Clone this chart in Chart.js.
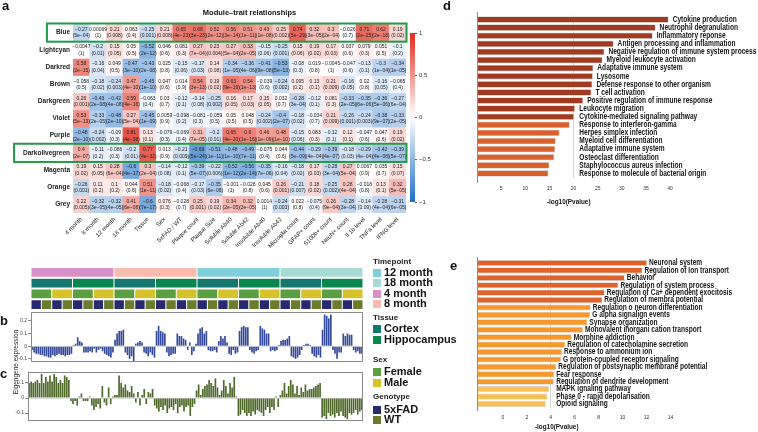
<!DOCTYPE html>
<html><head><meta charset="utf-8">
<script src="https://cdn.jsdelivr.net/npm/chart.js"></script>
<style>
html,body{margin:0;padding:0;background:#fff;}
#wrap{position:relative;width:758px;height:432px;overflow:hidden;background:#fff;font-family:"Liberation Sans",Arial,sans-serif;color:#111;}
#wrap canvas{position:absolute;}
.t{position:absolute;white-space:nowrap;line-height:1;}
</style></head><body><div id="wrap"></div>
<script>
// ---------------- DATA ----------------
const traits = ['4 month','8 month','12 month','18 month','Tissue','Sex','5xFAD / WT','Plaque count','Plaque Size','Soluble Ab40','Soluble Ab42','Insoluble Ab40','Insoluble Ab42','Microglia count','GFAP+ count','S100b+ count','NeuN+ count','Il 1b level','TNFa level','IFNG level'];
const modules = ['Blue','Lightcyan','Darkred','Brown','Darkgreen','Violet','Purple','Darkolivegreen','Magenta','Orange','Grey'];
const highlighted = ['Blue','Darkolivegreen'];

const corBlue = [-0.27,0.00069,0.21,0.063,-0.25,0.21,0.65,0.68,0.52,0.56,0.51,0.43,0.25,0.74,0.32,0.3,-0.026,0.71,0.62,0.19];
const pBlue = [5e-4,1,0.008,0.4,0.001,0.008,4e-23,3e-23,2e-12,3e-14,1e-11,1e-8,0.002,5e-29,3e-5,2e-4,0.7,2e-25,2e-18,0.02];
const corLightcyan = [-0.0047,-0.2,0.15,0.05,-0.52,0.046,0.081,0.27,0.23,0.27,0.33,-0.15,-0.25,0.15,0.19,0.17,0.037,0.079,0.051,-0.1];
const pLightcyan = [1,0.01,0.05,0.5,2e-12,0.6,0.3,7e-4,0.004,5e-4,2e-5,0.06,0.001,0.06,0.02,0.03,0.6,0.3,0.5,0.2];
const corDarkred = [0.58,-0.16,0.049,-0.47,-0.43,0.025,-0.15,-0.17,0.14,-0.34,-0.36,-0.41,-0.53,-0.08,0.019,-0.0045,-0.047,-0.13,-0.3,-0.34];
const pDarkred = [2e-15,0.04,0.5,3e-10,2e-8,0.8,0.06,0.03,0.08,1e-5,4e-6,9e-8,5e-13,0.3,0.8,1,0.6,0.1,1e-4,1e-5];
const corBrown = [-0.058,-0.18,-0.24,0.47,-0.45,0.047,0.014,0.54,0.19,0.63,0.54,-0.039,-0.24,0.095,0.13,0.21,-0.16,0.02,-0.16,-0.065];
const pBrown = [0.5,0.02,0.003,4e-10,1e-10,0.6,0.9,3e-13,0.02,9e-19,1e-13,0.6,0.002,0.2,0.1,0.009,0.05,0.8,0.05,0.4];
const corDarkgreen = [0.26,-0.43,-0.42,0.59,-0.063,0.03,-0.12,-0.14,-0.25,0.16,0.17,0.15,0.032,-0.28,-0.12,0.081,-0.33,-0.35,-0.36,-0.27];
const pDarkgreen = [0.001,2e-8,4e-8,4e-16,0.4,0.7,0.1,0.08,0.002,0.05,0.03,0.05,0.7,3e-4,0.1,0.3,2e-5,6e-6,5e-6,6e-4];
const corViolet = [0.53,-0.33,-0.48,0.27,-0.45,0.0059,-0.098,-0.081,-0.059,0.05,0.048,-0.24,-0.4,-0.18,-0.034,0.21,-0.26,-0.24,-0.38,-0.33];
const pViolet = [5e-13,2e-5,2e-10,5e-4,1e-9,0.9,0.2,0.3,0.5,0.5,0.5,0.002,2e-7,0.02,0.7,0.009,0.001,0.003,9e-7,2e-5];
const corPurple = [-0.48,-0.24,-0.09,0.81,0.13,-0.079,-0.069,0.31,-0.2,0.65,0.6,0.46,0.48,-0.15,0.083,-0.12,0.12,-0.047,0.047,0.19];
const pPurple = [2e-10,0.002,0.3,4e-38,0.1,0.3,0.4,7e-5,0.01,4e-20,1e-16,1e-9,1e-10,0.06,0.3,0.1,0.1,0.6,0.6,0.02];
const corDarkolivegreen = [0.4,-0.11,-0.086,-0.2,0.77,0.013,-0.21,-0.69,-0.51,-0.48,-0.49,-0.075,0.044,-0.44,-0.29,-0.39,-0.18,-0.29,-0.42,-0.39];
const pDarkolivegreen = [2e-7,0.2,0.3,0.01,4e-32,0.9,0.009,5e-24,1e-11,1e-10,7e-11,0.4,0.6,5e-9,4e-4,4e-7,0.03,4e-4,4e-8,5e-7];
const corMagenta = [0.19,0.15,0.28,-0.6,0.3,-0.14,-0.12,-0.39,-0.22,-0.52,-0.56,-0.35,-0.16,-0.18,0.17,-0.28,0.27,0.0067,0.035,0.15];
const pMagenta = [0.02,0.05,6e-4,4e-17,2e-4,0.08,0.1,5e-7,0.006,1e-12,2e-14,7e-6,0.04,0.02,0.03,3e-4,5e-4,0.9,0.7,0.07];
const corOrange = [-0.26,0.11,0.1,0.044,0.51,-0.18,-0.068,-0.17,-0.35,-0.001,-0.028,0.045,0.26,-0.21,0.18,-0.25,0.28,-0.018,0.13,0.32];
const pOrange = [0.001,0.2,0.2,0.6,1e-11,0.02,0.4,0.03,6e-6,1,0.8,0.6,0.001,0.007,0.02,0.002,4e-4,0.8,0.1,5e-5];
const corGrey = [0.22,-0.32,-0.32,0.41,-0.6,0.076,-0.028,0.25,0.19,0.34,0.32,0.0014,-0.24,0.022,-0.075,0.26,-0.28,-0.14,-0.28,-0.31];
const pGrey = [0.005,3e-5,4e-5,6e-8,7e-17,0.3,0.7,0.001,0.02,2e-5,3e-5,1,0.003,0.8,0.4,9e-4,3e-4,0.09,4e-4,6e-5];

const timepoints = ['4 month','8 month','12 month','18 month'];
const tissues = ['Cortex','Hippocampus'];
const sexes = ['Female','Male'];
const genotypes = ['5xFAD','WT'];
const replicates = 5;

// Blue module eigengene (panel b), 160 samples
const eigenBlue = [
-0.03,-0.05,-0.06,-0.06,-0.07, -0.07,-0.08,-0.08,-0.09,-0.09, -0.07,-0.08,-0.07,-0.06,-0.07, -0.07,-0.08,-0.07,-0.07,-0.06,
0.01,0.02,0.07,0.04,0.03, -0.05,-0.05,-0.05,-0.04,-0.05, -0.02,-0.05,-0.03,-0.02,-0.04, -0.06,-0.07,-0.08,-0.09,-0.05,
0.05,0.1,0.12,0.12,0.13, -0.05,-0.07,-0.1,-0.08,-0.12, 0.02,0.03,0.04,0.03,-0.05, -0.06,-0.08,-0.05,-0.07,-0.09,
0.12,0.16,0.12,0.11,0.1, -0.05,-0.08,-0.07,-0.06,-0.06, 0.1,0.08,0.08,0.06,0.05, -0.03,0.03,-0.07,-0.04,0.02,
0.1,0.14,0.15,0.1,0.12, -0.03,-0.04,-0.04,-0.03,-0.05, 0.04,0.08,0.06,0.08,0.03, -0.06,-0.07,-0.03,-0.06,-0.05,
0.12,0.15,0.16,0.15,0.15, -0.03,-0.05,-0.06,-0.04,-0.03, 0.16,0.14,0.13,0.1,0.1, -0.04,-0.03,-0.04,-0.03,0.01,
0.04,0.05,0.05,0.06,0.08, -0.08,-0.09,-0.1,-0.09,-0.07, -0.03,0.01,0.02,0.02,0.01, -0.06,-0.08,-0.09,-0.07,-0.09,
0.13,0.25,0.24,0.22,0.25, -0.03,-0.06,-0.1,-0.05,-0.05, 0.1,0.08,0.1,0.09,0.09, -0.03,-0.05,-0.04,-0.06,-0.06];

// Darkolivegreen module eigengene (panel c), 160 samples
const eigenDarkolivegreen = [
0.1,0.11,0.1,0.11,0.12, 0.1,0.16,0.1,0.14,0.11, 0.15,0.11,0.16,0.14,0.1, 0.12,0.1,0.15,0.14,0.12,
-0.02,-0.04,-0.02,-0.05,0.01, 0.03,-0.02,-0.02,-0.02,0.01, -0.05,-0.08,-0.06,-0.04,-0.07, 0.08,-0.03,-0.05,0.07,-0.04,
0.01,0.02,0.02,0.15,0.1, 0.07,0.09,0.05,0.04,0.08, 0.03,-0.03,0.04,-0.05,0.02, 0.06,-0.04,0.04,0.03,0.06,
-0.05,-0.07,-0.09,-0.06,-0.08, -0.05,-0.1,-0.07,-0.06,-0.08, -0.04,-0.1,-0.06,-0.05,-0.09, -0.06,-0.05,-0.12,-0.06,-0.04,
0.05,0.09,0.02,0.06,0.08, 0.09,0.12,0.1,0.08,0.13, 0.07,0.02,0.05,0.12,0.08, 0.03,0.1,0.07,0.14,0.01,
-0.12,-0.11,-0.08,-0.1,-0.12, -0.1,-0.12,-0.09,-0.11,-0.08, -0.09,-0.1,-0.12,-0.08,-0.06, -0.1,-0.06,-0.08,0.01,-0.06,
0.02,0.05,0.1,0.03,0.08, 0.12,0.09,0.03,0.08,0.02, 0.07,0.04,0.09,0.05,0.06, 0.06,0.07,0.08,0.09,0.1,
-0.13,-0.12,-0.14,-0.1,-0.12, -0.11,-0.13,-0.1,-0.12,-0.09, -0.12,-0.13,-0.14,-0.1,-0.11, -0.1,-0.08,-0.11,-0.09,-0.08];

const dTerms = ['Cytokine production','Neutrophil degranulation','Inflammatory reponse','Antigen processing and inflammation','Negative regulation of immune system process','Myeloid leukocyte activation','Adaptative immune system','Lysosome','Defense response to other organism','T cell activation','Positive regulation of immune response','Leukocyte migration','Cytokine-mediated signaling pathway','Response to interferon-gamma','Herpes simplex infection','Myeloid cell differentiation','Adaptative immune system','Osteoclast differentiation','Staphylococcus aureus infection','Response to molecule of bacterial origin'];
const dValues = [39.7,37.0,36.4,28.3,26.4,26.0,24.1,24.0,23.9,23.7,22.0,20.3,20.1,19.2,17.1,16.3,16.2,16.0,15.0,14.8];
const dTicks = [5,10,15,20,25,30,35,40];

const eTerms = ['Neuronal system','Regulation of Ion transport','Behavior','Regulation of system process','Regulation of Ca+ dependent exocitosis','Regulation of membra potential','Regulation o neuron differentiation','G alpha signalign events','Synapse organization','Monovalent inorgani cation transport','Morphine addiction','Regulation of catecholamine secretion','Response to ammonium ion','G protein-coupled receptor signaling','Regulation of postsynaptic membrane potential','Fear response','Regulation of dendrite development','MAPK ignaling pathway','Phase 0 - rapid depolarisation','Opioid signaling'];
const eValues = [12.05,11.66,10.18,9.65,8.51,8.31,7.34,7.31,7.06,6.7,5.75,5.22,4.94,4.86,4.47,4.3,4.25,3.86,3.72,3.58];
const eTicks = [0,2,4,6,8,10,12,14];

// ---------------- STYLE ----------------
const F = '"Liberation Sans", Arial, Helvetica, sans-serif';
Chart.defaults.font.family = F;
const corRows = [corBlue,corLightcyan,corDarkred,corBrown,corDarkgreen,corViolet,corPurple,corDarkolivegreen,corMagenta,corOrange,corGrey];
const pRows = [pBlue,pLightcyan,pDarkred,pBrown,pDarkgreen,pViolet,pPurple,pDarkolivegreen,pMagenta,pOrange,pGrey];
const annColors = {
  '4 month':'#D891C6','8 month':'#F8BBAE','12 month':'#7FCFDB','18 month':'#A7DCD4',
  'Cortex':'#14766E','Hippocampus':'#09874F','Female':'#5A9F42','Male':'#D6C22C',
  '5xFAD':'#28296F','WT':'#6B7C2C'};

function heatColor(v){
  const t = Math.min(1, Math.abs(v));
  const end = v >= 0 ? [226,44,28] : [30,110,200];
  const c = end.map(e => Math.round(255 + (e - 255) * t));
  return `rgb(${c[0]},${c[1]},${c[2]})`;
}
const minus = s => s.replace('-', '\u2212');
function fmtR(v){ return minus(String(v)); }
function fmtP(p){
  if (p >= 0.001) return String(p);
  const parts = p.toExponential(0).split('e');
  const ex = Math.abs(+parts[1]);
  return parts[0] + 'e\u2212' + (ex < 10 ? '0' + ex : ex);
}

const wrap = document.getElementById('wrap');
function mk(l,t,w,h){
  const c = document.createElement('canvas');
  c.width = w; c.height = h;
  c.style.left = l+'px'; c.style.top = t+'px'; c.style.width = w+'px'; c.style.height = h+'px';
  wrap.appendChild(c); return c;
}
function txt(s, l, t, css){
  const d = document.createElement('div'); d.className = 't'; d.textContent = s;
  d.style.left = l+'px'; d.style.top = t+'px'; d.style.cssText += css; wrap.appendChild(d); return d;
}
const base = {responsive:false, animation:false, events:[], plugins:{legend:{display:false}, tooltip:{enabled:false}}};

// ---------------- PANEL A: heatmap ----------------
const heatPlugin = {
  id:'heatText',
  afterDatasetsDraw(chart){
    const ctx = chart.ctx, a = chart.chartArea, ys = chart.scales.y;
    ctx.save();
    ctx.font = '5px ' + F; ctx.fillStyle = '#222'; ctx.textAlign = 'center'; ctx.textBaseline = 'middle';
    chart.data.datasets.forEach((ds, r) => {
      chart.getDatasetMeta(r).data.forEach((el, c) => {
        const cy = (el.y + el.base) / 2;
        ctx.fillText(fmtR(corRows[r][c]), el.x, cy - 3);
        ctx.fillText('(' + fmtP(pRows[r][c]) + ')', el.x, cy + 3.5);
      });
    });
    // highlight boxes
    ctx.strokeStyle = '#23994A'; ctx.lineWidth = 2;
    ctx.font = 'bold 6.5px ' + F;
    highlighted.forEach(name => {
      const r = modules.indexOf(name);
      const top = ys.getPixelForValue(r), bot = ys.getPixelForValue(r + 1);
      const left = a.left - 3 - ctx.measureText(name).width - 9;
      ctx.strokeRect(left, top - 0.5, a.right + 0.5 - left, bot - top + 1);
    });
    ctx.restore();
  }
};
new Chart(mk(0,0,440,262), {
  type:'bar',
  data:{labels:traits, datasets: modules.map((m, r) => ({
    label:m, data: traits.map(() => [r, r + 1]), backgroundColor: corRows[r].map(heatColor),
    borderWidth:0, categoryPercentage:1, barPercentage:1, grouped:false }))},
  options:Object.assign({}, base, {
    layout:{padding:{left:0, right:34, top:24, bottom:0}},
    scales:{
      x:{type:'category', grid:{display:false, drawTicks:false}, border:{display:false},
         ticks:{minRotation:45, maxRotation:45, autoSkip:false, font:{size:6}, color:'#222', padding:3},
         afterFit(s){ s.height = 49; }},
      y:{type:'linear', min:0, max:11, reverse:true, grid:{display:false, drawTicks:false}, border:{display:false},
         afterBuildTicks(s){ s.ticks = modules.map((m, i) => ({value: i + 0.5})); },
         ticks:{autoSkip:false, callback:(v, i) => modules[i], font:{size:6.5, weight:'bold'}, color:'#222', padding:3},
         afterFit(s){ s.width = 73; }}
    }
  }),
  plugins:[heatPlugin]
});

// colour scale
new Chart(mk(400,20,40,200), {
  type:'bar',
  data:{labels:[''], datasets:[{data:[[-1,1]], borderWidth:0, categoryPercentage:1, barPercentage:1,
    backgroundColor:(c) => { const a = c.chart.chartArea; if (!a) return null;
      const g = c.chart.ctx.createLinearGradient(0, a.bottom, 0, a.top);
      g.addColorStop(0, heatColor(-1)); g.addColorStop(0.5, heatColor(0)); g.addColorStop(1, heatColor(1)); return g; }}]},
  options:Object.assign({}, base, {
    layout:{padding:{left:10, right:0, top:13, bottom:18}},
    scales:{
      x:{display:false},
      y:{position:'right', min:-1, max:1, border:{display:false},
         grid:{drawOnChartArea:false, tickLength:2, color:'#555'},
         ticks:{stepSize:0.5, font:{size:6}, color:'#333', padding:2, callback:v => fmtR(v)},
         afterFit(s){ s.width = 25; }}
    }
  })
});

// ---------------- PANELS B / C ----------------
const samples = [];
timepoints.forEach(tp => tissues.forEach(ti => sexes.forEach(sx => genotypes.forEach(g => {
  for (let k = 0; k < replicates; k++) samples.push({tp, ti, sx, g});
}))));
const trackKeys = ['tp','ti','sx','g'];
const runs = trackKeys.map(key => {
  const out = [];
  samples.forEach((s, i) => {
    const last = out[out.length - 1];
    if (last && last.v === s[key]) last.end = i + 1; else out.push({v:s[key], start:i, end:i + 1});
  });
  return out;
});
const maxRuns = Math.max(...runs.map(r => r.length));
const trackSets = [];
for (let k = 0; k < maxRuns; k++) {
  trackSets.push({
    data: runs.map(r => r[k] ? [r[k].start, r[k].end] : null),
    backgroundColor: runs.map(r => r[k] ? annColors[r[k].v] : 'rgba(0,0,0,0)'),
    borderColor:'#ffffff', borderWidth:0.5, borderSkipped:false,
    categoryPercentage:1, barPercentage:0.9, grouped:false
  });
}
new Chart(mk(0,262,370,50), {
  type:'bar',
  data:{labels:['Timepoint','Tissue','Sex','Genotype'], datasets:trackSets},
  options:Object.assign({}, base, {
    indexAxis:'y',
    layout:{padding:{left:31, right:7, top:5, bottom:2}},
    scales:{x:{display:false, min:0, max:samples.length}, y:{display:false}}
  })
});

const boxPlugin = {id:'box', afterDraw(chart){
  const a = chart.chartArea, ctx = chart.ctx; ctx.save();
  ctx.strokeStyle = '#8a8a8a'; ctx.lineWidth = 1;
  ctx.strokeRect(Math.round(a.left) + 0.5, Math.round(a.top) + 0.5, Math.round(a.right - a.left) - 1, Math.round(a.bottom - a.top) - 1);
  ctx.restore(); }};
function eigenChart(canvas, values, color, ymin, ymax, axisW, padTop, padBottom){
  return new Chart(canvas, {
    type:'bar',
    data:{labels:samples.map((s, i) => i + 1), datasets:[{data:values, backgroundColor:color, borderWidth:0, categoryPercentage:1, barPercentage:0.8}]},
    options:Object.assign({}, base, {
      layout:{padding:{left:0, right:7, top:padTop, bottom:padBottom}},
      scales:{
        x:{display:false},
        y:{min:ymin, max:ymax, border:{display:false},
           grid:{color:c => (c.tick && c.tick.value === 0) ? '#dedede' : 'rgba(0,0,0,0)', tickColor:'#888', tickLength:3},
           ticks:{stepSize:0.1, includeBounds:false, font:{size:5}, color:'#444', padding:1},
           afterFit(s){ s.width = axisW; }}
      }
    }),
    plugins:[boxPlugin]
  });
}
eigenChart(mk(0,305,370,64), eigenBlue, '#33499A', -0.125, 0.27, 31, 7, 7);
eigenChart(mk(0,366,370,62), eigenDarkolivegreen, '#4E6A2A', -0.153, 0.173, 28, 6, 7);

// ---------------- PANELS D / E ----------------
function termPlugin(terms, minVal, gap, titleVal, titleDy, ext){
  return {id:'terms', afterDatasetsDraw(chart){
    const ctx = chart.ctx, a = chart.chartArea, xs = chart.scales.x;
    const meta = chart.getDatasetMeta(0);
    ctx.save();
    ctx.strokeStyle = '#8c8c8c'; ctx.lineWidth = 1; ctx.beginPath();
    const x0 = Math.round(a.left) + 0.5; ctx.moveTo(x0, a.top - ext[0]); ctx.lineTo(x0, a.bottom + ext[1]); ctx.stroke();
    ctx.font = 'bold 8.5px ' + F; ctx.fillStyle = '#151515'; ctx.textBaseline = 'middle'; ctx.textAlign = 'left';
    const minX = xs.getPixelForValue(minVal);
    meta.data.forEach((el, i) => {
      ctx.save(); ctx.translate(Math.max(el.x + gap, minX), el.y); ctx.scale(0.775, 1);
      ctx.fillText(terms[i], 0, 0); ctx.restore();
    });
    ctx.font = 'bold 7.5px ' + F; ctx.textAlign = 'center';
    ctx.save(); ctx.translate(xs.getPixelForValue(titleVal), a.bottom + titleDy); ctx.scale(0.85, 1);
    ctx.fillText('-log10(Pvalue)', 0, 0); ctx.restore();
    ctx.restore();
  }};
}
function enrichChart(canvas, terms, values, colors, xmin, xmax, ticks, gridAt, padTop, axisH, tickPad, plugin){
  return new Chart(canvas, {
    type:'bar',
    data:{labels:terms, datasets:[{data:values, backgroundColor:colors, base:xmin,
      borderColor:'#d2d2d2', borderWidth:0.7, borderSkipped:false, categoryPercentage:1, barPercentage:0.82}]},
    options:Object.assign({}, base, {
      indexAxis:'y',
      layout:{padding:{left:37, right:1, top:padTop, bottom:0}},
      scales:{
        x:{min:xmin, max:xmax, border:{display:false},
           afterBuildTicks(s){ s.ticks = ticks.map(v => ({value:v})); },
           grid:{drawTicks:false, color:c => (c.tick && c.tick.value === gridAt) ? '#d4d4d4' : 'rgba(0,0,0,0)'},
           ticks:{font:{size:5}, color:'#333', padding:tickPad},
           afterFit(s){ s.height = axisH; }},
        y:{display:false}
      }
    }),
    plugins:[plugin]
  });
}
const dColors = dValues.map((v, i) => i < 13 ? '#A23A22' : '#D9602A');
enrichChart(mk(440,0,318,212), dTerms, dValues, dColors, 0, 58, dTicks, 20, 15.5, 34.5, 8,
  termPlugin(dTerms, 21.2, 4, 19, 24.5, [3.5, 5.5]));
const eColors = eValues.map((v, i) => i < 6 ? '#E0622B' : (i < 17 ? '#F7982F' : '#F9BF55'));
enrichChart(mk(440,212,318,220), eTerms, eValues, eColors, -2.16, 21.23, eTicks, 4, 47.3, 24.3, 7,
  termPlugin(eTerms, 4.45, 2, 4.5, 19.3, [2.3, 3.3]));

// ---------------- TEXT: panel letters, title, legends ----------------
const letterCss = 'font-size:13px;font-weight:bold;color:#111;';
txt('a', 2, -1, letterCss); txt('b', 0, 314, letterCss); txt('c', 0, 367, letterCss);
txt('d', 443, -1, letterCss); txt('e', 450, 259, letterCss);
txt('Module\u2013trait relationships', 149.5, 9, 'width:200px;text-align:center;font-size:7.5px;font-weight:bold;color:#111;');
txt('Eigengene expression', 15.5, 361.5, 'font-size:6.5px;color:#222;transform:translate(-50%,-50%) rotate(-90deg);');

const legendGroups = [
  {title:'Timepoint', y:262, items:[['12 month',272.5],['18 month',283],['4 month',293.5],['8 month',304]]},
  {title:'Tissue', y:318, items:[['Cortex',329],['Hippocampus',339.5]]},
  {title:'Sex', y:360, items:[['Female',372],['Male',382.5]]},
  {title:'Genotype', y:397.5, items:[['5xFAD',409.5],['WT',420]]}
];
legendGroups.forEach(g => {
  txt(g.title, 373, g.y - 4.5, 'font-size:8px;font-weight:bold;color:#222;');
  g.items.forEach(([name, y]) => {
    const sw = document.createElement('div');
    sw.style.cssText = `position:absolute;left:373px;top:${y - 4}px;width:8px;height:8px;background:${annColors[name]};`;
    wrap.appendChild(sw);
    txt(name, 384, y - 6, 'font-size:11px;font-weight:bold;color:#151515;');
  });
});
</script></body></html>
